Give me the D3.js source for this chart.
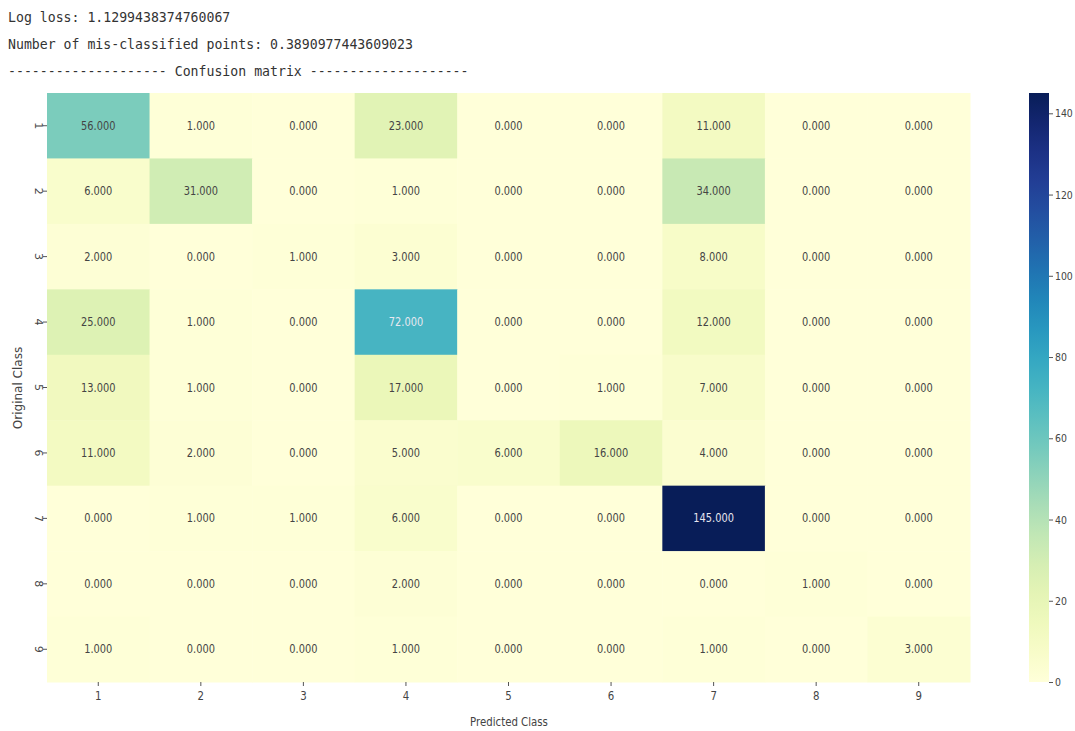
<!DOCTYPE html>
<html><head><meta charset="utf-8">
<script src="https://cdn.jsdelivr.net/npm/d3@7"></script>
<style>body{margin:0;background:#fff}svg{display:block}</style>
</head><body>
<svg id="chart" width="1075" height="731"></svg>
<script>
const headerLines = [
  "Log loss: 1.1299438374760067",
  "Number of mis-classified points: 0.3890977443609023",
  "-------------------- Confusion matrix --------------------"
];
const predictedClasses = ["1","2","3","4","5","6","7","8","9"];
const originalClasses = ["1","2","3","4","5","6","7","8","9"];
const row1 = [56,1,0,23,0,0,11,0,0];
const row2 = [6,31,0,1,0,0,34,0,0];
const row3 = [2,0,1,3,0,0,8,0,0];
const row4 = [25,1,0,72,0,0,12,0,0];
const row5 = [13,1,0,17,0,1,7,0,0];
const row6 = [11,2,0,5,6,16,4,0,0];
const row7 = [0,1,1,6,0,0,145,0,0];
const row8 = [0,0,0,2,0,0,0,1,0];
const row9 = [1,0,0,1,0,0,1,0,3];
const matrix = [row1,row2,row3,row4,row5,row6,row7,row8,row9];
const colorbarTicks = [0,20,40,60,80,100,120,140];
const vmin = 0, vmax = 145;

const svg = d3.select("#chart");
const L = 47, R = 970, T = 93, B = 682;
const x = d3.scaleBand().domain(predictedClasses).range([L,R]);
const y = d3.scaleBand().domain(originalClasses).range([T,B]);
const color = d3.scaleSequential(d3.interpolateYlGnBu).domain([vmin,vmax]);

// header
svg.selectAll("text.hdr").data(headerLines).join("text")
  .attr("class","hdr")
  .attr("x",8).attr("y",(d,i)=>22+i*27)
  .attr("font-family","'DejaVu Sans Mono', monospace")
  .attr("font-size",13.2)
  .attr("fill","#333")
  .text(d=>d);

const cells = [];
matrix.forEach((row,i)=>row.forEach((v,j)=>cells.push({r:originalClasses[i],c:predictedClasses[j],v})));

const g = svg.append("g");
g.selectAll("rect").data(cells).join("rect")
  .attr("x",d=>x(d.c)).attr("y",d=>y(d.r))
  .attr("width",x.bandwidth()+0.5).attr("height",y.bandwidth()+0.5)
  .attr("fill",d=>color(d.v));

g.selectAll("text").data(cells).join("text")
  .attr("transform",d=>`translate(${x(d.c)+x.bandwidth()/2},${y(d.r)+y.bandwidth()/2+4}) scale(0.82,1)`)
  .attr("text-anchor","middle")
  .attr("font-family","'DejaVu Sans', sans-serif")
  .attr("font-size",12)
  .attr("fill",d=>d.v>60?"#e8e8f0":"#444")
  .text(d=>d3.format(".3f")(d.v));

// x axis
const xAxis = svg.append("g").attr("transform",`translate(0,${B})`)
  .call(d3.axisBottom(x).tickSize(4).tickPadding(5));
xAxis.select(".domain").remove();
xAxis.selectAll(".tick line").attr("stroke","#555");
xAxis.selectAll("text").attr("font-family","'DejaVu Sans', sans-serif").attr("font-size",12).attr("fill","#444")
  .attr("transform","scale(0.85,1)");

// y axis
const yAxis = svg.append("g").attr("transform",`translate(${L},0)`)
  .call(d3.axisLeft(y).tickSize(4).tickPadding(0));
yAxis.select(".domain").remove();
yAxis.selectAll(".tick line").attr("stroke","#555");
yAxis.selectAll("text").attr("font-family","'DejaVu Sans', sans-serif").attr("font-size",11).attr("fill","#444")
  .attr("text-anchor","middle").attr("x",0).attr("dy",0)
  .attr("transform","translate(-12,0) rotate(90)");

svg.append("text").attr("x",509).attr("y",726).attr("text-anchor","middle")
  .attr("font-family","'DejaVu Sans', sans-serif").attr("font-size",12).attr("fill","#444")
  .attr("transform","translate(509,0) scale(0.85,1) translate(-509,0)")
  .text("Predicted Class");
svg.append("text").attr("transform","translate(22,388) rotate(-90)").attr("text-anchor","middle")
  .attr("font-family","'DejaVu Sans', sans-serif").attr("font-size",12).attr("fill","#444")
  .text("Original Class");

// colorbar
const cbX = 1029, cbW = 20;
const cy = d3.scaleLinear().domain([vmin,vmax]).range([B,T]);
const defs = svg.append("defs");
const grad = defs.append("linearGradient").attr("id","cb").attr("x1",0).attr("y1",1).attr("x2",0).attr("y2",0);
d3.range(0,1.0001,0.05).forEach(t=>grad.append("stop").attr("offset",t).attr("stop-color",color(vmin+t*(vmax-vmin))));
svg.append("rect").attr("x",cbX).attr("y",T).attr("width",cbW).attr("height",B-T).attr("fill","url(#cb)");
const cAxis = svg.append("g").attr("transform",`translate(${cbX+cbW},0)`)
  .call(d3.axisRight(cy).tickValues(colorbarTicks).tickSize(4).tickPadding(3));
cAxis.select(".domain").remove();
cAxis.selectAll(".tick line").attr("stroke","#555");
cAxis.selectAll("text").attr("font-family","'DejaVu Sans', sans-serif").attr("font-size",11).attr("fill","#444")
  .attr("transform","scale(0.85,1)");
</script>
</body></html>
